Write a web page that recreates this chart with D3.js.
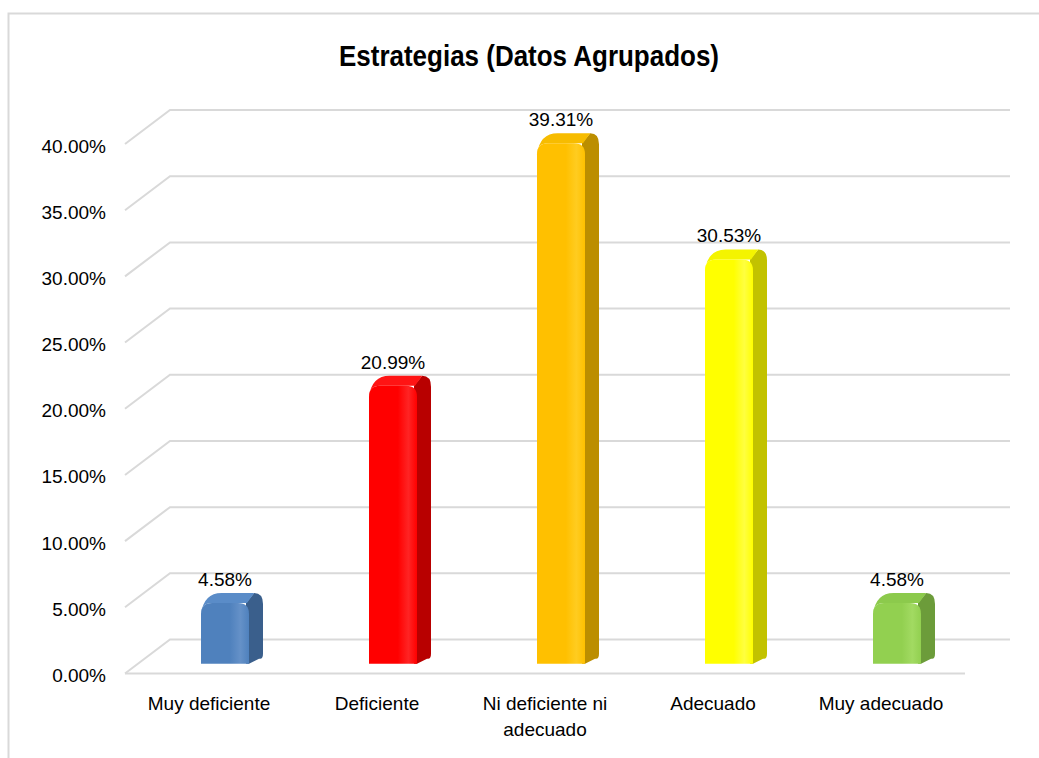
<!DOCTYPE html>
<html><head><meta charset="utf-8">
<script src="https://cdn.jsdelivr.net/npm/d3@7/dist/d3.min.js"></script>
<style>html,body{margin:0;padding:0;background:#fff;}svg{display:block;}</style>
</head><body>
<script>
const categories = ["Muy deficiente", "Deficiente", "Ni deficiente ni|adecuado", "Adecuado", "Muy adecuado"];
const values = [4.58, 20.99, 39.31, 30.53, 4.58];
const valueLabels = ["4.58%", "20.99%", "39.31%", "30.53%", "4.58%"];
const yTicks = [0, 5, 10, 15, 20, 25, 30, 35, 40];
const yTickLabels = ["0.00%", "5.00%", "10.00%", "15.00%", "20.00%", "25.00%", "30.00%", "35.00%", "40.00%"];
const colors = [
  {front:"#4F81BD", light:"#6591C8", side:"#3A5F8C", top:"#5A8CC8"},
  {front:"#FF0000", light:"#FF2424", side:"#B80000", top:"#FF1414"},
  {front:"#FFC000", light:"#FFCC20", side:"#BC8E00", top:"#F7BC00"},
  {front:"#FFFF00", light:"#FFFF40", side:"#C2C200", top:"#F4F400"},
  {front:"#92D050", light:"#A2DA62", side:"#6C9C3A", top:"#8CCA4C"}
];

const W = 1039, H = 758;
const svg = d3.select("body").append("svg").attr("width", W).attr("height", H);
const defs = svg.append("defs");

// frame
svg.append("path").attr("d", `M8.5,${H} L8.5,13.5 L${W},13.5`).attr("fill","none").attr("stroke","#D9D9D9").attr("stroke-width",2);

// title
svg.append("text").attr("x", 529).attr("y", 66).attr("text-anchor","middle")
  .attr("font-family","'Liberation Sans Narrow','Arial Narrow','Liberation Sans',Arial,sans-serif")
  .attr("font-weight","bold").attr("font-size",29).attr("fill","#000")
  .attr("textLength",380).attr("lengthAdjust","spacingAndGlyphs")
  .text("Estrategias (Datos Agrupados)");

// geometry
const frontLeft = 125, frontRight = 965;
const depthX = 45, depthY = 34;           // wall depth offset (front -> back)
const y = d3.scaleLinear().domain([0, 40]).range([639.5, 110]); // back wall
const x = d3.scaleBand().domain(categories).range([frontLeft, frontRight]);

const grid = svg.append("g").attr("stroke","#D9D9D9").attr("stroke-width",2).attr("fill","none");
yTicks.forEach((t) => {
  const yb = y(t);
  grid.append("path").attr("d", `M${frontLeft},${yb+depthY} L${frontLeft+depthX},${yb} L${frontRight+depthX},${yb}`);
});
// floor front edge
grid.append("line").attr("x1",frontLeft).attr("x2",frontRight).attr("y1",y(0)+depthY).attr("y2",y(0)+depthY);

// y labels
const lblFont = "'Liberation Sans',Arial,sans-serif";
svg.append("g").selectAll("text").data(yTicks).join("text")
  .attr("x",106).attr("y",(d)=>y(d)+depthY+8.5).attr("text-anchor","end")
  .attr("font-family",lblFont).attr("font-size",19).attr("fill","#000")
  .text((d,i)=>yTickLabels[i]);

// x labels
const xl = svg.append("g");
categories.forEach((c) => {
  const lines = c.split("|");
  const t = xl.append("text").attr("text-anchor","middle").attr("font-family",lblFont)
    .attr("font-size",19).attr("fill","#000");
  lines.forEach((ln,j)=>{
    t.append("tspan").attr("x", x(c)+x.bandwidth()/2).attr("y", 710 + j*26).text(ln);
  });
});

// bars
const barFrontF = 0.29;       // fraction of wall depth from front for bar front plane
const bdx = 14, bdy = 10;     // bar depth
const barShiftX = 16;
const barW = 48;
const r = 11;
const bars = svg.append("g");
categories.forEach((c,i) => {
  const col = colors[i];
  const gid = "g"+i;
  const g1 = defs.append("linearGradient").attr("id",gid).attr("x1","0").attr("x2","1").attr("y1","0").attr("y2","0");
  g1.append("stop").attr("offset","0").attr("stop-color",col.front);
  g1.append("stop").attr("offset","0.6").attr("stop-color",col.front);
  g1.append("stop").attr("offset","0.82").attr("stop-color",col.light);
  g1.append("stop").attr("offset","1").attr("stop-color",col.front);

  const cx = x(c) + x.bandwidth()/2 + barShiftX;
  const x0 = cx - barW/2, x1 = cx + barW/2;
  const yb = y(0) + depthY*(1-barFrontF);
  const yt = y(values[i]) + depthY*(1-barFrontF);
  const gb = bars.append("g");
  // side face (also fills behind front's rounded corner)
  gb.append("path").attr("d",
    `M${x1-3},${yb} L${x1-3},${yt} L${x1+bdx-r*0.8},${yt-bdy} Q${x1+bdx},${yt-bdy} ${x1+bdx},${yt-bdy+r} L${x1+bdx},${yb-bdy} Q${x1+bdx},${yb-bdy*0.4} ${x1+bdx-4},${yb-bdy*0.5} L${x1},${yb} Z`)
    .attr("fill",col.side);
  // top face
  gb.append("path").attr("d",
    `M${x0},${yt+r} Q${x0},${yt} ${x0+r},${yt} L${x1-2},${yt} L${x1+bdx-r*0.8},${yt-bdy} L${x0+bdx+r*0.6},${yt-bdy} Q${x0+bdx*0.2},${yt-bdy} ${x0},${yt+r} Z`)
    .attr("fill",col.top);
  // front face
  gb.append("path").attr("d",
    `M${x0},${yb} L${x0},${yt+r} Q${x0},${yt} ${x0+r},${yt} L${x1-r},${yt} Q${x1},${yt} ${x1},${yt+r} L${x1},${yb} Z`)
    .attr("fill",`url(#${gid})`);
  // label
  svg.append("text").attr("x", cx).attr("y", yt - bdy - 7).attr("text-anchor","middle")
    .attr("font-family",lblFont).attr("font-size",19).attr("fill","#000")
    .text(valueLabels[i]);
});
</script>
</body></html>
